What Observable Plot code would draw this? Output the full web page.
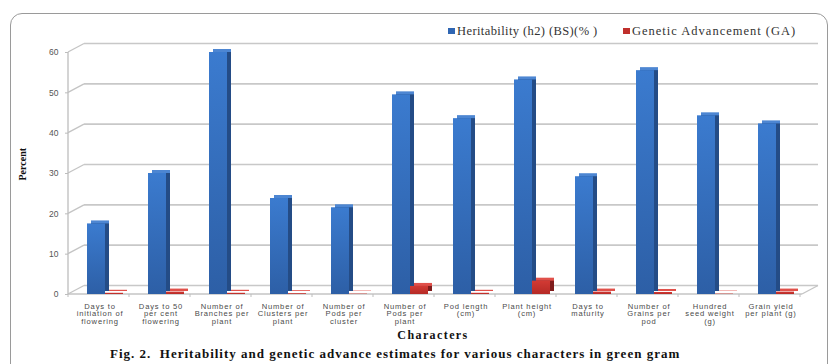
<!DOCTYPE html>
<html>
<head>
<meta charset="utf-8">
<script src="https://cdn.jsdelivr.net/npm/d3@7"></script>
<script src="https://cdn.jsdelivr.net/npm/@observablehq/plot@0.6"></script>
<style>
  html, body { margin: 0; padding: 0; background: #fff; }
  #wrap { position: relative; width: 836px; height: 364px; overflow: hidden; background: #fff; }
  #frame { position: absolute; left: 10px; top: 13px; width: 818px; height: 400px; border: 1px solid #9a9a9a; border-radius: 12px; box-sizing: border-box; }
  #chart { position: absolute; left: 0; top: 0; }
  .legend { position: absolute; top: 24px; font-family: "Liberation Serif", serif; font-size: 12.5px; color: #333; white-space: nowrap; }
  .legend span.sw { display: inline-block; width: 7px; height: 6px; margin-right: 2px; vertical-align: 1px; }
  #xtitle { position: absolute; left: 0; width: 866px; text-align: center; top: 328px; font-family: "Liberation Serif", serif; font-weight: bold; font-size: 12px; letter-spacing: 1.4px; color: #111; }
  #caption { position: absolute; left: 110px; top: 346px; font-family: "Liberation Serif", serif; font-weight: bold; font-size: 13px; letter-spacing: 1px; color: #111; white-space: pre; }
</style>
</head>
<body>
<div id="wrap">
  <div id="frame"></div>
  <div id="chart"></div>
  <div class="legend" style="left:448px; letter-spacing:0.4px"><span class="sw" style="background:#2f66b3"></span>Heritability (h2) (BS)(% )</div>
  <div class="legend" style="left:623px; letter-spacing:1px"><span class="sw" style="background:#c0302c"></span>Genetic Advancement (GA)</div>
  <div id="xtitle">Characters</div>
  <div id="caption">Fig. 2.  Heritability and genetic advance estimates for various characters in green gram</div>
</div>
<script>
const categories = [
  "Days to\ninitiation of\nflowering",
  "Days to 50\nper cent\nflowering",
  "Number of\nBranches per\nplant",
  "Number of\nClusters per\nplant",
  "Number of\nPods per\ncluster",
  "Number of\nPods per\nplant",
  "Pod length\n(cm)",
  "Plant height\n(cm)",
  "Days to\nmaturity",
  "Number of\nGrains per\npod",
  "Hundred\nseed weight\n(g)",
  "Grain yield\nper plant (g)"
];
const heritability = [17.5, 30, 60, 23.8, 21.5, 49.5, 43.6, 53.2, 29.2, 55.5, 44.3, 42.3];
const geneticAdvance = [0.3, 0.6, 0.3, 0.2, 0.1, 2.0, 0.3, 3.3, 0.6, 0.5, 0.1, 0.6];
const yTicks = [0, 10, 20, 30, 40, 50, 60];

const blueData = categories.map((c, i) => ({cat: c, v: heritability[i]}));
const redData = categories.map((c, i) => ({cat: c, v: geneticAdvance[i]}));

const DX = 16, DY = -8.5;

// 3D walls derived from scales
function walls(index, scales, values, dims) {
  const y = scales.y;
  const x0 = dims.marginLeft, x1 = dims.width - dims.marginRight;
  const g = d3.create("svg:g").attr("fill", "none");
  for (const t of yTicks) {
    const yy = y(t);
    g.append("line").attr("x1", x0).attr("y1", yy).attr("x2", x0 + DX).attr("y2", yy + DY)
      .attr("stroke", "#c4c4c4").attr("stroke-width", 1.3);
    g.append("line").attr("x1", x0 + DX).attr("y1", yy + DY).attr("x2", x1 + DX).attr("y2", yy + DY)
      .attr("stroke", "#c8c8c8").attr("stroke-width", 1.6);
  }
  const yb = y(0);
  g.append("line").attr("x1", x0).attr("y1", yb).attr("x2", x1).attr("y2", yb)
    .attr("stroke", "#c4c4c4").attr("stroke-width", 1.3);
  g.append("line").attr("x1", x1).attr("y1", yb).attr("x2", x1 + DX).attr("y2", yb + DY)
    .attr("stroke", "#c4c4c4").attr("stroke-width", 1.3);
  g.append("line").attr("x1", x0).attr("y1", y(60)).attr("x2", x0).attr("y2", yb)
    .attr("stroke", "#bdbdbd").attr("stroke-width", 1.3);
  const bw = scales.x.bandwidth();
  for (let i = 0; i <= categories.length; i++) {
    const xx = x0 + i * bw;
    g.append("line").attr("x1", xx).attr("y1", yb).attr("x2", xx).attr("y2", yb + 3)
      .attr("stroke", "#bdbdbd").attr("stroke-width", 1);
  }
  return g.node();
}

const blueIn = {insetLeft: 18, insetRight: 25};
const redIn = {insetLeft: 36, insetRight: 7};

const plot = Plot.plot({
  width: 836,
  height: 336,
  marginLeft: 68,
  marginRight: 34,
  marginTop: 52,
  marginBottom: 42,
  style: {fontFamily: "'Liberation Sans', Arial, sans-serif", background: "transparent"},
  x: {type: "band", domain: categories, padding: 0},
  y: {domain: [0, 60]},
  marks: [
    walls,
    Plot.axisY({ticks: yTicks, tickSize: 3, tickPadding: 7, fontSize: 8.5, color: "#555", stroke: "#bdbdbd", label: null}),
    Plot.axisX({tickSize: 0, tickPadding: 9, fontSize: 7.6, lineHeight: 1.0, color: "#4a4a4a", label: null}),
    Plot.barY(blueData, {x: "cat", y: "v", ...blueIn, dx: 4, dy: -3, fill: "#4d86d2"}),
    Plot.barY(blueData, {x: "cat", y: "v", ...blueIn, insetTop: 3, dx: 4, dy: -3, fill: "#244c86"}),
    Plot.barY(blueData, {x: "cat", y: "v", ...blueIn, fill: "url(#gBlue)"}),
    Plot.barY(redData, {x: "cat", y: "v", ...redIn, dx: 4, dy: -3, fill: "#e0504a"}),
    Plot.barY(redData, {x: "cat", y: "v", ...redIn, insetTop: 3, dx: 4, dy: -3, fill: "#7e1b1b"}),
    Plot.barY(redData, {x: "cat", y: "v", ...redIn, fill: "url(#gRed)"}),
    Plot.text(["Percent"], {frameAnchor: "left", rotate: -90, dx: -46, dy: 7, fontWeight: "bold", fontSize: 10, fontFamily: "'Liberation Serif', serif", fill: "#111"})
  ]
});

d3.select(plot).insert("defs", ":first-child").html(`
  <linearGradient id="gBlue" x1="0" y1="0" x2="0" y2="1">
    <stop offset="0" stop-color="#3b7bcf"/>
    <stop offset="1" stop-color="#2d5fa6"/>
  </linearGradient>
  <linearGradient id="gRed" x1="0" y1="0" x2="0" y2="1">
    <stop offset="0" stop-color="#d23a34"/>
    <stop offset="1" stop-color="#b52a26"/>
  </linearGradient>`);
d3.select(plot).selectAll('g[aria-label="x-axis tick label"]').attr("letter-spacing", "0.8px");

document.getElementById("chart").appendChild(plot);
</script>
</body>
</html>
